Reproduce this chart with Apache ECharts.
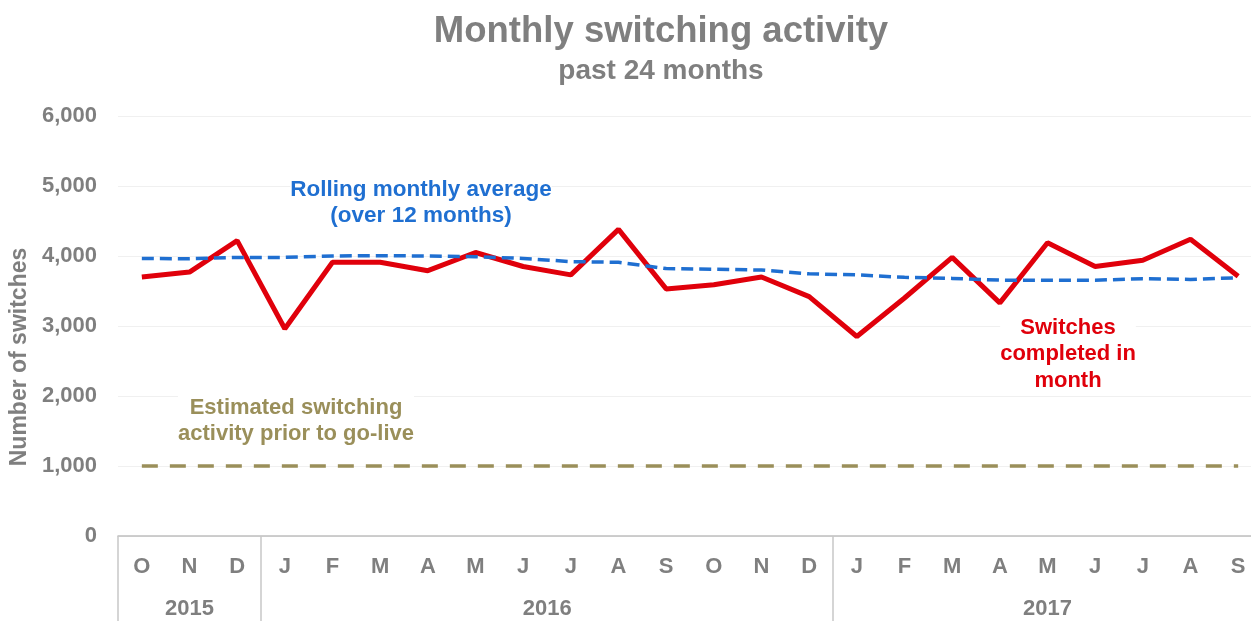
<!DOCTYPE html>
<html>
<head>
<meta charset="utf-8">
<script src="https://cdn.jsdelivr.net/npm/echarts@6/dist/echarts.min.js"></script>
<style>
  html, body { margin: 0; padding: 0; background: #fff; overflow: hidden; }
  /* plot runs slightly past the right edge of the window, as in the source */
  #chart { width: 1262px; height: 621px; }
</style>
</head>
<body>
<div id="chart"></div>
<script>
// months Oct 2015 .. Sep 2017
const months = ["O","N","D","J","F","M","A","M","J","J","A","S","O","N","D","J","F","M","A","M","J","J","A","S"];
// year label sits on this month index (2016 nudged half a band right)
const yearLabels = {1: "2015", 8: "2016", 19: "2017"};
const yearBreaks = [0, 3, 15];

const switches = [3700,3770,4220,2960,3910,3910,3790,4050,3850,3730,4380,3530,
                  3590,3700,3420,2850,3400,3980,3330,4190,3850,3940,4240,3710];
const rolling  = [3965,3960,3980,3980,4000,4005,4000,3990,3965,3920,3910,3820,
                  3810,3800,3745,3730,3695,3680,3655,3655,3655,3675,3665,3690];
const preGoLive = months.map(() => 1000);

const yTicks = [0,1000,2000,3000,4000,5000,6000];

const FONT = "'Liberation Sans', Arial, sans-serif";
const GREY = "#7f7f7f";

const chart = echarts.init(document.getElementById("chart"));

chart.setOption({
  animation: false,
  title: {
    text: "Monthly switching activity",
    subtext: "past 24 months",
    left: 656,
    textAlign: "center",
    top: 8,
    itemGap: 7,
    textStyle: {fontFamily: FONT, fontSize: 36.5, fontWeight: "bold", color: GREY},
    subtextStyle: {fontFamily: FONT, fontSize: 28, fontWeight: "bold", color: GREY}
  },
  grid: {left: 118, right: 0, top: 116, bottom: 85, containLabel: false},
  xAxis: [{
    type: "category",
    data: months,
    boundaryGap: true,
    axisLine: {show: true, lineStyle: {color: "#bfbfbf", width: 1.5}},
    axisTick: {show: false},
    axisLabel: {interval: 0, margin: 20, fontFamily: FONT, fontSize: 22, fontWeight: "bold", color: GREY}
  }, {
    type: "category",
    data: months,
    position: "bottom",
    boundaryGap: true,
    axisLine: {show: false},
    axisTick: {
      show: true, length: 86, inside: false,
      interval: (i) => yearBreaks.includes(i),
      lineStyle: {color: "#c8c8c8", width: 1.5}
    },
    axisLabel: {
      interval: 0, margin: 62,
      formatter: (v, i) => {
        if (!yearLabels[i]) return "";
        return i === 8 ? "{s|" + yearLabels[i] + "}" : yearLabels[i];
      },
      rich: {s: {padding: [0, 0, 0, 48], fontFamily: FONT, fontSize: 22, fontWeight: "bold", color: GREY}},
      fontFamily: FONT, fontSize: 22, fontWeight: "bold", color: GREY
    }
  }],
  yAxis: {
    type: "value",
    min: yTicks[0], max: yTicks[yTicks.length - 1], interval: 1000,
    name: "Number of switches",
    nameLocation: "middle",
    nameGap: 86,
    nameRotate: 90,
    nameTextStyle: {fontFamily: FONT, fontSize: 23, fontWeight: "bold", color: GREY, padding: [0, 62, 0, 0]},
    axisLine: {show: false},
    axisTick: {show: false},
    splitLine: {lineStyle: {color: "#f0f0f0", width: 1}},
    axisLabel: {
      margin: 21, fontFamily: FONT, fontSize: 22, fontWeight: "bold", color: GREY,
      formatter: (v) => v.toLocaleString("en-US")
    }
  },
  series: [{
    name: "Estimated switching activity prior to go-live",
    type: "line", data: preGoLive, symbol: "none", z: 2,
    lineStyle: {color: "#9a8f5a", width: 3.5, type: [16, 12]}
  }, {
    name: "Switches completed in month",
    type: "line", data: switches, symbol: "none", z: 3,
    lineStyle: {color: "#e0000b", width: 5}
  }, {
    name: "Rolling monthly average",
    type: "line", data: rolling, symbol: "none", z: 4,
    lineStyle: {color: "#1f6fd1", width: 3.5, type: [12, 6]}
  }],
  graphic: [{
    type: "text", x: 421, y: 203, z: 10,
    style: {text: "Rolling monthly average\n(over 12 months)", textAlign: "center", textVerticalAlign: "middle",
      font: "bold 22.5px " + FONT, lineHeight: 26, fill: "#1f6fd1", backgroundColor: "#fff"}
  }, {
    type: "text", x: 296, y: 421, z: 10,
    style: {text: "Estimated switching\nactivity prior to go-live", textAlign: "center", textVerticalAlign: "middle",
      font: "bold 22px " + FONT, lineHeight: 26, fill: "#9a8f5a", backgroundColor: "#fff"}
  }, {
    type: "text", x: 1068, y: 354, z: 10,
    style: {text: "Switches\ncompleted in\nmonth", textAlign: "center", textVerticalAlign: "middle",
      font: "bold 22px " + FONT, lineHeight: 26.5, fill: "#e0000b", backgroundColor: "#fff"}
  }]
});
</script>
</body>
</html>
